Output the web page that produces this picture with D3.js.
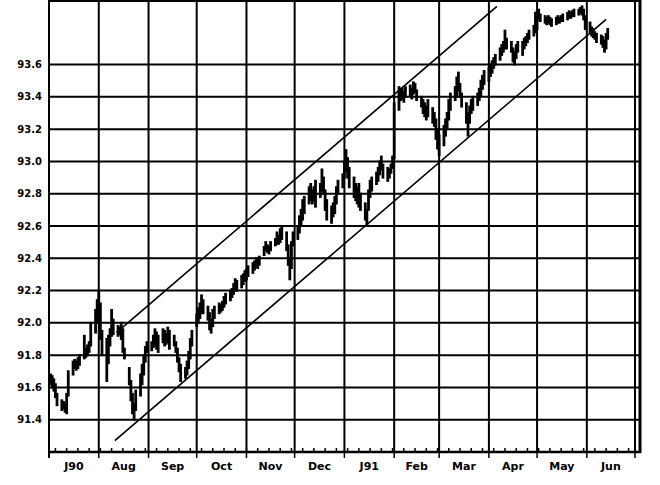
<!DOCTYPE html>
<html>
<head>
<meta charset="utf-8">
<script src="https://cdn.jsdelivr.net/npm/d3@7"></script>
<style>
  html, body { margin: 0; padding: 0; background: #fff; }
  svg { display: block; }
  text { font-family: "DejaVu Sans", sans-serif; font-weight: bold; fill: #000; }
</style>
</head>
<body>
<svg id="chart" width="660" height="485"></svg>
<script>
// ---- data ----
const monthLabels = ["J90","Aug","Sep","Oct","Nov","Dec","J91","Feb","Mar","Apr","May","Jun"];
const yTicks = [91.4, 91.6, 91.8, 92.0, 92.2, 92.4, 92.6, 92.8, 93.0, 93.2, 93.4, 93.6];

// daily [high, low] per month (weekdays in order)
const jul90 = [[91.68,91.62],[91.67,91.60],[91.65,91.58],[91.62,91.54],[91.56,91.49],[91.52,91.46],[91.51,91.47],[91.50,91.45],[91.56,91.44],[91.70,91.55],[91.76,91.68],[91.77,91.72],[91.76,91.71],[91.78,91.72],[91.80,91.74],[91.92,91.78],[91.84,91.79],[91.86,91.80],[91.88,91.82],[92.00,91.86],[92.08,91.94],[92.14,92.00]];
const aug90 = [[92.20,92.04],[92.12,91.90],[91.95,91.80],[91.90,91.64],[91.92,91.75],[91.96,91.86],[92.08,91.92],[92.02,91.93],[91.98,91.92],[91.97,91.93],[92.00,91.90],[91.96,91.82],[91.84,91.78],[91.72,91.62],[91.64,91.52],[91.56,91.44],[91.50,91.40],[91.58,91.46],[91.68,91.55],[91.74,91.62],[91.80,91.68],[91.85,91.76],[91.88,91.82]];
const sep90 = [[91.88,91.83],[91.92,91.85],[91.96,91.86],[91.94,91.84],[91.92,91.82],[91.96,91.88],[91.95,91.86],[91.93,91.87],[91.97,91.88],[91.95,91.84],[91.92,91.86],[91.88,91.82],[91.84,91.76],[91.78,91.70],[91.74,91.64],[91.72,91.66],[91.76,91.68],[91.82,91.72],[91.90,91.78],[91.95,91.86]];
const oct90 = [[92.05,91.98],[92.09,92.00],[92.12,92.03],[92.17,92.06],[92.14,92.06],[92.10,92.02],[92.06,91.96],[92.02,91.94],[92.08,91.98],[92.10,92.03],[92.12,92.06],[92.11,92.07],[92.13,92.08],[92.16,92.10],[92.18,92.12],[92.20,92.14],[92.21,92.16],[92.24,92.18],[92.27,92.20],[92.26,92.20],[92.29,92.22],[92.30,92.24],[92.32,92.26]];
const nov90 = [[92.33,92.27],[92.35,92.29],[92.37,92.31],[92.38,92.33],[92.40,92.35],[92.39,92.34],[92.41,92.36],[92.47,92.42],[92.50,92.45],[92.48,92.44],[92.47,92.43],[92.50,92.45],[92.52,92.48],[92.56,92.49],[92.54,92.49],[92.58,92.50],[92.60,92.52],[92.56,92.45],[92.48,92.36],[92.40,92.27],[92.50,92.34],[92.56,92.48]];
const dec90 = [[92.60,92.52],[92.66,92.56],[92.70,92.60],[92.76,92.64],[92.78,92.68],[92.84,92.74],[92.86,92.76],[92.82,92.74],[92.84,92.76],[92.88,92.72],[92.86,92.78],[92.95,92.82],[92.90,92.80],[92.82,92.70],[92.76,92.64],[92.72,92.62],[92.74,92.66],[92.78,92.68],[92.84,92.74],[92.88,92.80],[92.92,92.84]];
const jan91 = [[93.00,92.90],[93.07,92.94],[93.02,92.90],[92.96,92.84],[92.90,92.78],[92.86,92.76],[92.84,92.74],[92.86,92.72],[92.80,92.70],[92.74,92.64],[92.70,92.60],[92.82,92.70],[92.88,92.78],[92.90,92.82],[92.93,92.86],[92.96,92.88],[93.00,92.92],[93.03,92.95],[92.98,92.90],[92.96,92.88],[92.95,92.90],[92.98,92.93],[93.03,92.96]];
const feb91 = [[93.36,93.02],[93.46,93.32],[93.44,93.38],[93.45,93.39],[93.43,93.37],[93.46,93.40],[93.47,93.41],[93.45,93.39],[93.49,93.42],[93.48,93.43],[93.44,93.38],[93.40,93.34],[93.38,93.30],[93.36,93.28],[93.34,93.26],[93.38,93.28],[93.33,93.24],[93.30,93.22],[93.26,93.14],[93.20,93.08]];
const mar91 = [[93.16,93.04],[93.22,93.10],[93.26,93.16],[93.30,93.20],[93.38,93.26],[93.42,93.32],[93.46,93.38],[93.52,93.40],[93.55,93.44],[93.48,93.40],[93.42,93.34],[93.36,93.24],[93.30,93.16],[93.34,93.24],[93.38,93.30],[93.40,93.32],[93.42,93.35],[93.45,93.38],[93.50,93.41],[93.53,93.45],[93.56,93.48]];
const apr91 = [[93.58,93.50],[93.60,93.53],[93.62,93.55],[93.64,93.58],[93.66,93.60],[93.70,93.63],[93.72,93.66],[93.74,93.68],[93.81,93.70],[93.76,93.70],[93.74,93.68],[93.70,93.62],[93.68,93.60],[93.72,93.64],[93.74,93.68],[93.74,93.66],[93.76,93.70],[93.77,93.72],[93.79,93.74],[93.81,93.76],[93.84,93.78],[93.92,93.80]];
const may91 = [[93.93,93.82],[93.94,93.88],[93.91,93.87],[93.90,93.86],[93.89,93.85],[93.90,93.86],[93.89,93.85],[93.88,93.84],[93.89,93.85],[93.90,93.86],[93.89,93.86],[93.90,93.87],[93.91,93.87],[93.92,93.88],[93.93,93.89],[93.92,93.89],[93.93,93.90],[93.94,93.90],[93.94,93.91],[93.95,93.92],[93.96,93.91],[93.94,93.88],[93.90,93.82]];
const jun91 = [[93.86,93.80],[93.83,93.78],[93.82,93.77],[93.80,93.76],[93.79,93.74],[93.78,93.73],[93.77,93.71],[93.75,93.68],[93.79,93.70],[93.82,93.76]];

const monthlyData = [jul90, aug90, sep90, oct90, nov90, dec90, jan91, feb91, mar91, apr91, may91, jun91];

// trend channel lines: [date, value] endpoints
const upperChannel = [["1990-08-12", 91.94], ["1991-04-06", 93.96]];
const lowerChannel = [["1990-08-11", 91.27], ["1991-06-13", 93.88]];

(function () {
const svg = d3.select("#chart");
const parse = d3.timeParse("%Y-%m-%d");
const start = new Date(1990, 6, 1), end = new Date(1991, 6, 1);
const x = d3.scaleTime().domain([start, end]).range([49, 635]);
const y = d3.scaleLinear().domain([91.2, 94.0]).range([452, 0]);
const pLeft = 49, pRight = 640, pBottom = 452, pTop = 1;

// build daily bars
const bars = [];
monthlyData.forEach((arr, i) => {
  const m0 = d3.timeMonth.offset(start, i), m1 = d3.timeMonth.offset(start, i + 1);
  const days = d3.timeDay.range(m0, m1).filter(d => d.getDay() !== 0 && d.getDay() !== 6);
  arr.forEach((v, j) => { if (days[j]) bars.push({ date: days[j], high: v[0], low: v[1] }); });
});

// horizontal grid
svg.append("g").selectAll("line").data(yTicks).join("line")
  .attr("x1", pLeft).attr("x2", pRight)
  .attr("y1", d => y(d)).attr("y2", d => y(d))
  .attr("stroke", "#000").attr("stroke-width", 2);

// vertical month grid
const monthStarts = d3.timeMonth.range(d3.timeMonth.offset(start, 1), d3.timeDay.offset(end, 1));
svg.append("g").selectAll("line").data(monthStarts).join("line")
  .attr("x1", d => x(d)).attr("x2", d => x(d))
  .attr("y1", pTop).attr("y2", pBottom)
  .attr("stroke", "#000").attr("stroke-width", 2);

// frame
svg.append("line").attr("x1", pLeft).attr("x2", pRight).attr("y1", pTop).attr("y2", pTop)
  .attr("stroke", "#000").attr("stroke-width", 2);
svg.append("line").attr("x1", pRight).attr("x2", pRight).attr("y1", 0).attr("y2", pBottom + 1)
  .attr("stroke", "#000").attr("stroke-width", 3);
svg.append("line").attr("x1", pLeft).attr("x2", pLeft).attr("y1", 0).attr("y2", pBottom + 6)
  .attr("stroke", "#000").attr("stroke-width", 2);
svg.append("line").attr("x1", pLeft - 1).attr("x2", pRight + 1).attr("y1", pBottom).attr("y2", pBottom)
  .attr("stroke", "#000").attr("stroke-width", 2.5);

// weekly ticks (up) and month ticks (down)
const weeks = d3.timeThursday.range(start, end);
svg.append("g").selectAll("line").data(weeks).join("line")
  .attr("x1", d => x(d)).attr("x2", d => x(d))
  .attr("y1", pBottom - 4).attr("y2", pBottom)
  .attr("stroke", "#000").attr("stroke-width", 1.5);
svg.append("g").selectAll("line").data(monthStarts).join("line")
  .attr("x1", d => x(d)).attr("x2", d => x(d))
  .attr("y1", pBottom).attr("y2", pBottom + 6)
  .attr("stroke", "#000").attr("stroke-width", 1.5);

// y labels
svg.append("g").selectAll("text").data(yTicks).join("text")
  .attr("x", 42).attr("y", d => y(d)).attr("dy", "0.36em")
  .attr("text-anchor", "end").attr("font-size", 10)
  .text(d => d.toFixed(1));

// x labels centered in month
const monthsAll = d3.timeMonth.range(start, end);
svg.append("g").selectAll("text").data(monthsAll).join("text")
  .attr("x", d => (x(d) + x(d3.timeMonth.offset(d, 1))) / 2)
  .attr("y", 470).attr("text-anchor", "middle").attr("font-size", 11)
  .text((d, i) => monthLabels[i]);

// channel lines
const line = d3.line().x(d => x(parse(d[0]))).y(d => y(d[1]));
[upperChannel, lowerChannel].forEach(c => {
  svg.append("path").attr("d", line(c)).attr("fill", "none")
    .attr("stroke", "#000").attr("stroke-width", 1.6);
});

// price bars
svg.append("g").selectAll("line").data(bars).join("line")
  .attr("x1", d => x(d.date)).attr("x2", d => x(d.date))
  .attr("y1", d => y(d.high) - 1).attr("y2", d => y(d.low) + 1)
  .attr("stroke", "#000").attr("stroke-width", 2.8);
})();
</script>
</body>
</html>
